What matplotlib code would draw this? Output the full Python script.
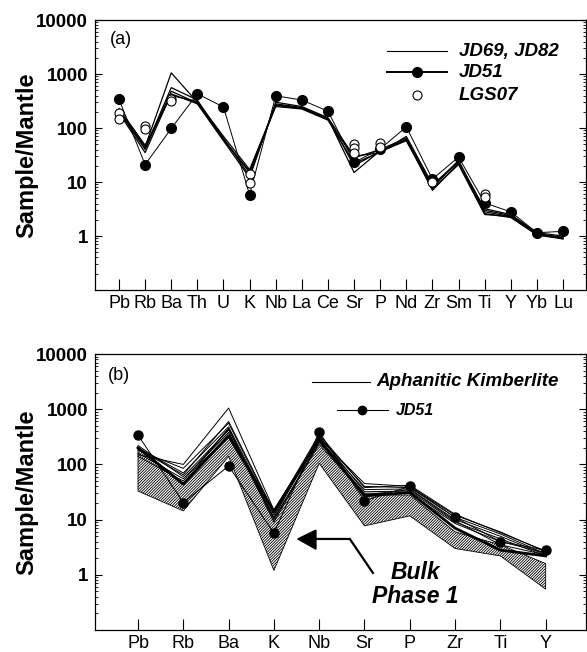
import numpy as np
import matplotlib
matplotlib.use("Agg")
import matplotlib.pyplot as plt
from matplotlib.ticker import LogLocator, NullFormatter
from matplotlib.patches import Polygon

plt.rcParams["font.family"] = ["Liberation Sans", "DejaVu Sans"]
plt.rcParams["hatch.linewidth"] = 0.6

nan = np.nan

# ----------------------------
# Data, panel (a)
# ----------------------------
elements_a = ["Pb", "Rb", "Ba", "Th", "U", "K", "Nb", "La", "Ce",
              "Sr", "P", "Nd", "Zr", "Sm", "Ti", "Y", "Yb", "Lu"]

jd69_82_1 = [210, 45, 1050, 300, 65, 13, 280, 240, 150, 15, 38, 62, 7.0, 22, 2.6, 2.2, 1.05, 0.88]
jd69_82_2 = [220, 42, 560, 330, 62, 15, 270, 230, 145, 22, 36, 60, 8.0, 24, 2.8, 2.3, 1.10, 0.92]
jd69_82_3 = [200, 40, 480, 290, 60, 16, 250, 225, 140, 28, 40, 65, 8.5, 25, 3.0, 2.4, 1.10, 0.95]
jd69_82_4 = [190, 35, 430, 280, 58, 12, 300, 250, 155, 30, 35, 70, 9.0, 23, 3.2, 2.5, 1.15, 1.00]
jd69_82_5 = [230, 48, 400, 310, 70, 17, 260, 235, 150, 20, 37, 58, 7.5, 21, 2.5, 2.3, 1.05, 0.90]

jd51 = [340, 21, 98, 430, 245, 5.8, 395, 330, 205, 23, 41, 105, 11.3, 29, 4.1, 2.8, 1.15, 1.22]

lgs07_1 = [186, 107, 350, nan, nan, 14, nan, nan, nan, 51, 52, nan, 9.8, nan, 6.0, nan, nan, nan]
lgs07_2 = [150, 94, 316, nan, nan, 9.4, nan, nan, nan, 42, 44, nan, nan, nan, 5.2, nan, nan, nan]
lgs07_3 = [nan, nan, nan, nan, nan, nan, nan, nan, nan, 35, nan, nan, nan, nan, nan, nan, nan, nan]

# ----------------------------
# Data, panel (b)
# ----------------------------
elements_b = ["Pb", "Rb", "Ba", "K", "Nb", "Sr", "P", "Zr", "Ti", "Y"]

aphanitic = [
    [150, 100, 1050, 15, 300, 45, 40, 12.0, 6.0, 2.6],
    [180, 85, 560, 13, 320, 40, 38, 11.0, 5.5, 2.4],
    [200, 70, 480, 12, 280, 35, 36, 10.0, 5.0, 2.3],
    [220, 60, 420, 11, 330, 32, 33, 9.0, 4.5, 2.2],
    [160, 55, 380, 10, 260, 30, 30, 8.5, 4.0, 2.5],
    [140, 50, 450, 9, 250, 28, 35, 9.5, 3.5, 2.3],
    [190, 65, 600, 14, 350, 38, 42, 12.5, 5.8, 2.7],
]
aphanitic_main = [200, 44, 330, 14, 285, 27, 31, 7.0, 2.8, 2.2]

jd51_b = [340, 20.4, 94, 5.7, 388, 22, 40, 11.0, 4.0, 2.8]

bulk_upper = [205, 45, 450, 10.5, 230, 28, 28, 6.0, 3.5, 1.6]
bulk_lower = [33, 14.4, 140, 1.2, 105, 7.7, 11.7, 3.0, 2.2, 0.55]

# ----------------------------
# Plot
# ----------------------------
fig = plt.figure(figsize=(5.87, 6.52), dpi=100)
ax_a = fig.add_axes([0.1618, 0.5552, 0.8365, 0.4141])
ax_b = fig.add_axes([0.1618, 0.0337, 0.8365, 0.4233])


def style_axes(ax, labels, xlim):
    ax.set_yscale("log")
    ax.set_ylim(0.1, 10000)
    ax.set_xlim(*xlim)
    ax.set_xticks(range(len(labels)))
    ax.set_xticklabels(labels, fontsize=13)
    ax.set_yticks([1, 10, 100, 1000, 10000])
    ax.set_yticklabels(["1", "10", "100", "1000", "10000"],
                       fontsize=13.5, fontweight="bold")
    ax.yaxis.set_minor_locator(LogLocator(base=10, subs=np.arange(2, 10)))
    ax.yaxis.set_minor_formatter(NullFormatter())
    ax.tick_params(axis="x", direction="in", length=8, width=0.8,
                   bottom=True, top=False, pad=3.5)
    ax.tick_params(axis="y", which="major", direction="in", length=5,
                   width=0.8, left=True, right=True, pad=5)
    ax.tick_params(axis="y", which="minor", direction="in", length=2.5,
                   width=0.6, left=True, right=True)
    for s in ax.spines.values():
        s.set_linewidth(0.9)
    ax.set_ylabel("Sample/Mantle", fontsize=17, fontweight="bold")
    ax.yaxis.set_label_coords(-0.116, 0.5)


# panel (a)
xa = np.arange(len(elements_a))
for line in [jd69_82_1, jd69_82_2, jd69_82_3, jd69_82_4, jd69_82_5]:
    ax_a.plot(xa, line, color="black", lw=0.9)
ax_a.plot(xa, jd51, color="black", lw=0.7, marker="o", ms=7, mfc="black")
for pts in [lgs07_1, lgs07_2, lgs07_3]:
    ax_a.plot(xa, pts, ls="none", marker="o", ms=6.5, mfc="white",
              mec="black", mew=0.8)
style_axes(ax_a, elements_a, (-0.92, 17.88))
ax_a.text(0.031, 0.926, "(a)", transform=ax_a.transAxes, fontsize=13,
          va="center", ha="left")

# legend (a)
leg_font = dict(fontsize=13.5, fontweight="bold", fontstyle="italic",
                va="center", ha="left", transform=ax_a.transAxes)
ax_a.plot([0.595, 0.717], [0.885, 0.885], color="black", lw=0.8,
          transform=ax_a.transAxes)
ax_a.text(0.741, 0.885, "JD69, JD82", **leg_font)
ax_a.plot([0.595, 0.717], [0.806, 0.806], color="black", lw=1.4,
          transform=ax_a.transAxes)
ax_a.plot([0.656], [0.806], marker="o", ms=7, color="black",
          transform=ax_a.transAxes)
ax_a.text(0.741, 0.806, "JD51", **leg_font)
ax_a.plot([0.656], [0.722], marker="o", ms=6.5, mfc="white", mec="black",
          mew=0.8, transform=ax_a.transAxes)
ax_a.text(0.741, 0.722, "LGS07", **leg_font)

# panel (b)
xb = np.arange(len(elements_b))
ax_b.fill_between(xb, bulk_lower, bulk_upper, facecolor="white",
                  edgecolor="black", hatch="////////////", lw=0.6, zorder=1)
for line in aphanitic:
    ax_b.plot(xb, line, color="black", lw=0.7, zorder=2)
ax_b.plot(xb, aphanitic_main, color="black", lw=2.0, zorder=3)
ax_b.plot(xb, jd51_b, color="black", lw=0.7, marker="o", ms=6.5, zorder=4)
style_axes(ax_b, elements_b, (-0.95, 9.89))
ax_b.text(0.026, 0.924, "(b)", transform=ax_b.transAxes, fontsize=13,
          va="center", ha="left")

# legend (b)
ax_b.plot([0.442, 0.560], [0.899, 0.899], color="black", lw=0.8,
          transform=ax_b.transAxes)
ax_b.text(0.574, 0.899, "Aphanitic Kimberlite", fontsize=13.5,
          fontweight="bold", fontstyle="italic", va="center", ha="left",
          transform=ax_b.transAxes)
ax_b.plot([0.492, 0.596], [0.797, 0.797], color="black", lw=0.8,
          transform=ax_b.transAxes)
ax_b.plot([0.544], [0.797], marker="o", ms=6, color="black",
          transform=ax_b.transAxes)
ax_b.text(0.613, 0.797, "JD51", fontsize=11.5, fontweight="bold",
          fontstyle="italic", va="center", ha="left",
          transform=ax_b.transAxes)

# Bulk Phase 1 annotation
ax_b.plot([0.448, 0.519, 0.566], [0.330, 0.330, 0.207], color="black",
          lw=1.6, transform=ax_b.transAxes, solid_joinstyle="miter")
ax_b.add_patch(Polygon([[0.413, 0.330], [0.450, 0.362], [0.450, 0.293]],
                       closed=True, color="black", transform=ax_b.transAxes))
ax_b.text(0.652, 0.210, "Bulk", fontsize=16.5, fontweight="bold",
          fontstyle="italic", ha="center", va="center",
          transform=ax_b.transAxes)
ax_b.text(0.652, 0.120, "Phase 1", fontsize=16.5, fontweight="bold",
          fontstyle="italic", ha="center", va="center",
          transform=ax_b.transAxes)

plt.savefig("out.png", dpi=100)
plt.close()
